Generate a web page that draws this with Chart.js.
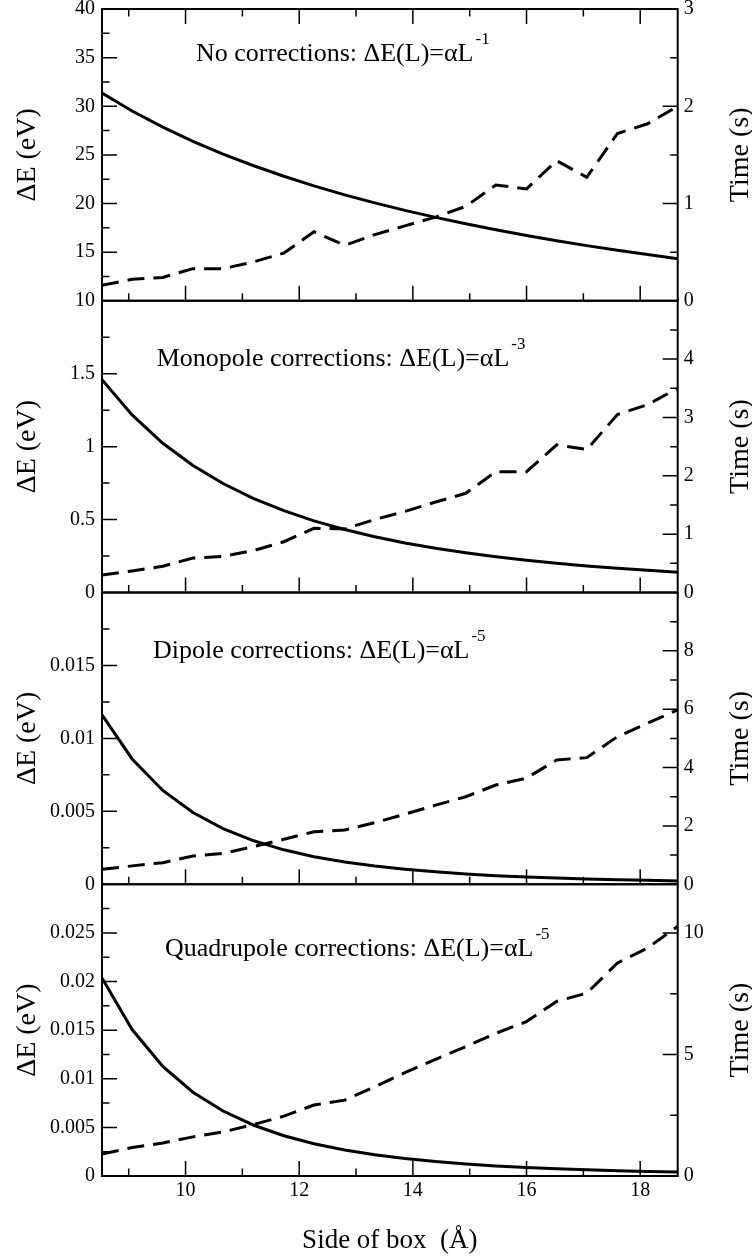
<!DOCTYPE html>
<html>
<head>
<meta charset="utf-8">
<script src="https://cdn.jsdelivr.net/npm/chart.js@4.4.0/dist/chart.umd.min.js"></script>
<style>
  html, body { margin: 0; padding: 0; background: #fff; }
  #wrap { position: relative; width: 752px; height: 1260px; }
  #wrap canvas { position: absolute; left: 0; top: 0; }
</style>
</head>
<body>
<div id="wrap">
  <canvas id="p0" width="752" height="1260"></canvas>
  <canvas id="p1" width="752" height="1260"></canvas>
  <canvas id="p2" width="752" height="1260"></canvas>
  <canvas id="p3" width="752" height="1260"></canvas>
</div>
<script>
// side of box (Angstrom)
const boxSide = [8.53, 9.06, 9.60, 10.13, 10.66, 11.20, 11.73, 12.26, 12.80, 13.33,
                 13.86, 14.40, 14.93, 15.46, 16.00, 16.53, 17.06, 17.60, 18.13, 18.66];

// energy error (eV), solid lines
const noCorrE = [31.35, 29.51, 27.85, 26.40, 25.08, 23.88, 22.80, 21.81, 20.89, 20.06,
                 19.29, 18.57, 17.91, 17.30, 16.71, 16.18, 15.67, 15.19, 14.75, 14.33];
const monoE = [1.458, 1.217, 1.023, 0.871, 0.747, 0.644, 0.561, 0.491, 0.432, 0.382,
               0.340, 0.303, 0.272, 0.245, 0.221, 0.200, 0.182, 0.166, 0.152, 0.139];
const dipoleE = [0.01161, 0.00859, 0.00643, 0.00492, 0.00381, 0.00298, 0.00236, 0.00189, 0.00153, 0.00125,
                 0.00103, 0.00085, 0.00071, 0.00059, 0.00050, 0.00043, 0.00036, 0.00031, 0.00027, 0.00023];
const quadE = [0.02035, 0.01506, 0.01127, 0.00862, 0.00668, 0.00522, 0.00414, 0.00332, 0.00268, 0.00218,
               0.00180, 0.00149, 0.00124, 0.00104, 0.00088, 0.00075, 0.00064, 0.00054, 0.00047, 0.00041];

// time (s), dashed lines
const noCorrT = [0.16, 0.22, 0.24, 0.33, 0.33, 0.40, 0.49, 0.71, 0.57, 0.68,
                 0.77, 0.86, 0.97, 1.19, 1.15, 1.44, 1.27, 1.72, 1.82, 2.00];
const monoT = [0.30, 0.37, 0.45, 0.59, 0.62, 0.72, 0.87, 1.10, 1.09, 1.25,
               1.39, 1.55, 1.70, 2.07, 2.07, 2.53, 2.45, 3.05, 3.22, 3.50];
const dipoleT = [0.51, 0.63, 0.74, 0.97, 1.06, 1.29, 1.54, 1.80, 1.86, 2.11,
                 2.40, 2.71, 3.00, 3.40, 3.64, 4.26, 4.34, 5.06, 5.52, 5.98];
const quadT = [0.90, 1.17, 1.36, 1.61, 1.81, 2.12, 2.46, 2.92, 3.12, 3.67,
               4.25, 4.80, 5.32, 5.87, 6.35, 7.18, 7.52, 8.76, 9.38, 10.27];

// axes
const xTicks = [10, 12, 14, 16, 18];
const eMin = [10, 0, 0, 0];
const eMax = [40, 2, 0.02, 0.03];
const eStep = [5, 0.5, 0.005, 0.005];
const eTicks = [[10, 15, 20, 25, 30, 35, 40], [0, 0.5, 1, 1.5], [0, 0.005, 0.01, 0.015],
                [0, 0.005, 0.01, 0.015, 0.02, 0.025]];
const tMax = [3, 5, 10, 12];
const tStep = [1, 1, 2, 5];
const tTicks = [[0, 1, 2, 3], [0, 1, 2, 3, 4], [0, 2, 4, 6, 8], [0, 5, 10]];

const panelTitles = ['No corrections: ΔE(L)=αL', 'Monopole corrections: ΔE(L)=αL',
                     'Dipole corrections: ΔE(L)=αL', 'Quadrupole corrections: ΔE(L)=αL'];
const panelPowers = ['-1', '-3', '-5', '-5'];

const energies = [noCorrE, monoE, dipoleE, quadE];
const times = [noCorrT, monoT, dipoleT, quadT];

// layout
const W = 752, H = 1260;
const PLOT_LEFT = 102, PLOT_RIGHT = 677.7, PLOT_TOP = 9, PLOT_BOTTOM = 1176;
const PANEL_H = (PLOT_BOTTOM - PLOT_TOP) / 4;
const X_AXIS_H = 40;
const SERIF = "'Liberation Serif', 'Times New Roman', serif";
const notePos = [[0.1633, 0.178], [0.095, 0.2236], [0.0886, 0.2228], [0.1094, 0.246]];

Chart.defaults.font.family = SERIF;
Chart.defaults.color = '#000';

const panelDecor = {
  id: 'panelDecor',
  afterDatasetsDraw(chart, args, opts) {
    const {ctx, chartArea: a, scales} = chart;
    const i = opts.index;
    ctx.save();
    ctx.strokeStyle = '#000';
    ctx.lineWidth = 1.5;
    ctx.beginPath();
    // x ticks, pointing inward
    const xs = scales.x;
    for (let v = Math.ceil(xs.min); v <= xs.max; v++) {
      const px = xs.getPixelForValue(v);
      const len = v % 2 === 0 ? 15 : 7.5;
      ctx.moveTo(px, a.bottom); ctx.lineTo(px, a.bottom - len);
      if (i === 0) { ctx.moveTo(px, a.top); ctx.lineTo(px, a.top + len); }
    }
    // y ticks, left and right
    const yTicks = (scale, step, side) => {
      const half = step / 2;
      for (let k = 1; scale.min + k * half < scale.max - 1e-9; k++) {
        const py = scale.getPixelForValue(scale.min + k * half);
        const len = k % 2 === 0 ? 15 : 7.5;
        if (side === 'left') { ctx.moveTo(a.left, py); ctx.lineTo(a.left + len, py); }
        else { ctx.moveTo(a.right, py); ctx.lineTo(a.right - len, py); }
      }
    };
    yTicks(scales.y, eStep[i], 'left');
    yTicks(scales.y2, tStep[i], 'right');
    ctx.stroke();
    ctx.lineWidth = 2;
    ctx.strokeRect(a.left, a.top, a.right - a.left, a.bottom - a.top);
    ctx.restore();
  },
  afterDraw(chart, args, opts) {
    const {ctx, chartArea: a} = chart;
    const i = opts.index;
    const midY = (a.top + a.bottom) / 2;
    ctx.save();
    ctx.fillStyle = '#000';
    ctx.font = '28px ' + SERIF;
    ctx.textAlign = 'center';
    ctx.textBaseline = 'alphabetic';
    // axis titles
    ctx.save(); ctx.translate(34.5, midY); ctx.rotate(-Math.PI / 2);
    ctx.fillText('ΔE (eV)', 0, 0); ctx.restore();
    ctx.save(); ctx.translate(748, midY); ctx.rotate(-Math.PI / 2);
    ctx.fillText('Time (s)', 0, 0); ctx.restore();
    ctx.font = '27px ' + SERIF;
    if (i === 3) ctx.fillText('Side of box  (Å)', (a.left + a.right) / 2, 1248);
    // panel note with superscript power
    ctx.font = '26px ' + SERIF;
    const nx = a.left + notePos[i][0] * (a.right - a.left);
    const ny = a.top + notePos[i][1] * (a.bottom - a.top);
    ctx.textAlign = 'left';
    ctx.fillText(panelTitles[i], nx, ny);
    const w = ctx.measureText(panelTitles[i]).width;
    ctx.font = '17px ' + SERIF;
    ctx.fillText(panelPowers[i], nx + w + 2, ny - 17);
    ctx.restore();
  }
};

function makePanel(i) {
  const last = i === 3;
  const top = PLOT_TOP + i * PANEL_H;
  const bottom = top + PANEL_H;
  const tickFont = {family: SERIF, size: 20};
  return new Chart(document.getElementById('p' + i), {
    type: 'line',
    data: {
      datasets: [
        {
          data: boxSide.map((L, k) => ({x: L, y: energies[i][k]})),
          yAxisID: 'y', borderColor: '#000', borderWidth: 3,
          pointRadius: 0, tension: 0, fill: false
        },
        {
          data: boxSide.map((L, k) => ({x: L, y: times[i][k]})),
          yAxisID: 'y2', borderColor: '#000', borderWidth: 3, borderDash: [17, 9],
          pointRadius: 0, tension: 0, fill: false
        }
      ]
    },
    options: {
      responsive: false,
      animation: false,
      devicePixelRatio: 1,
      layout: {
        padding: {left: 0, right: 0, top: top, bottom: last ? H - PLOT_BOTTOM - X_AXIS_H : H - bottom}
      },
      plugins: {legend: {display: false}, tooltip: {enabled: false}, panelDecor: {index: i}},
      scales: {
        x: {
          type: 'linear', display: last,
          min: boxSide[0], max: boxSide[boxSide.length - 1],
          grid: {display: false, drawTicks: false}, border: {display: false},
          ticks: {font: tickFont, padding: 3, maxRotation: 0, autoSkip: false, callback: v => String(v)},
          afterBuildTicks: s => { s.ticks = xTicks.map(v => ({value: v})); },
          afterFit: s => { s.height = last ? X_AXIS_H : 0; s.paddingLeft = 0; s.paddingRight = 0; }
        },
        y: {
          type: 'linear', position: 'left',
          min: eMin[i], max: eMax[i],
          grid: {display: false, drawTicks: false}, border: {display: false},
          ticks: {font: tickFont, padding: 7, autoSkip: false, callback: v => String(v)},
          afterBuildTicks: s => { s.ticks = eTicks[i].map(v => ({value: v})); },
          afterFit: s => { s.width = PLOT_LEFT; s.paddingTop = 0; s.paddingBottom = 0; }
        },
        y2: {
          type: 'linear', position: 'right',
          min: 0, max: tMax[i],
          grid: {display: false, drawTicks: false}, border: {display: false},
          ticks: {font: tickFont, padding: 6, autoSkip: false, callback: v => String(v)},
          afterBuildTicks: s => { s.ticks = tTicks[i].map(v => ({value: v})); },
          afterFit: s => { s.width = W - PLOT_RIGHT; s.paddingTop = 0; s.paddingBottom = 0; }
        }
      }
    },
    plugins: [panelDecor]
  });
}

for (let i = 0; i < 4; i++) makePanel(i);
</script>
</body>
</html>
